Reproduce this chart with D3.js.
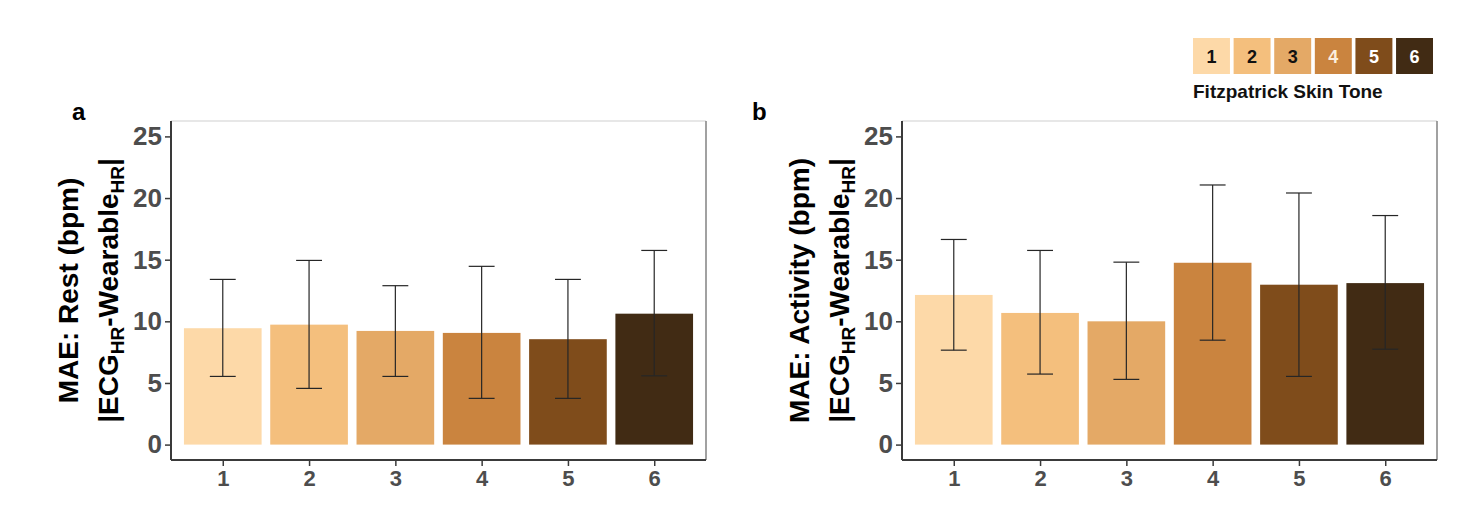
<!DOCTYPE html>
<html>
<head>
<meta charset="utf-8">
<script src="https://cdn.jsdelivr.net/npm/d3@7"></script>
<style>
  html, body { margin: 0; padding: 0; background: #fff; }
  svg { display: block; font-family: "Liberation Sans", Arial, sans-serif; }
</style>
</head>
<body>
<svg id="chart" width="1470" height="530"></svg>
<script>
// ---- data ----
const categories = ["1", "2", "3", "4", "5", "6"];
const toneColors = ["#FDD9A8", "#F4BF7D", "#E4A966", "#CA843F", "#7F4C1B", "#412B14"];
const legendTextColors = ["#111", "#111", "#111", "#fbeedd", "#fff", "#fff"];
const yTicks = [0, 5, 10, 15, 20, 25];

const restMean  = [9.44, 9.73, 9.22, 9.06, 8.55, 10.62];
const restLow   = [5.53, 4.56, 5.53, 3.75, 3.75, 5.58];
const restHigh  = [13.40, 14.94, 12.89, 14.46, 13.40, 15.75];

const actMean   = [12.14, 10.68, 10.00, 14.75, 12.97, 13.10];
const actLow    = [7.66, 5.72, 5.29, 8.47, 5.53, 7.74];
const actHigh   = [16.64, 15.75, 14.80, 21.06, 20.41, 18.58];

const panels = [
  { tag: "a", title: "MAE: Rest (bpm)", mean: restMean, low: restLow, high: restHigh, left: 171, tagX: 72 },
  { tag: "b", title: "MAE: Activity (bpm)", mean: actMean, low: actLow, high: actHigh, left: 902, tagX: 752 }
];

(function () {
const svg = d3.select("#chart");
const panelW = 535, pTop = 121, pBottom = 460;

const y = d3.scaleLinear().domain([-1.25, 26.25]).range([pBottom, pTop]);

panels.forEach(p => {
  // discrete scale with 0.6-unit expansion on each side
  const step = panelW / 6.2;
  const xs = d3.scalePoint().domain(categories)
    .range([p.left + step * 0.6, p.left + panelW - step * 0.6]);
  const bw = step * 0.9;

  const g = svg.append("g");

  // panel border (top/right)
  g.append("line").attr("x1", p.left).attr("x2", p.left + panelW).attr("y1", pTop).attr("y2", pTop)
    .attr("stroke", "#cfcfcf").attr("stroke-width", 1.2);
  g.append("line").attr("x1", p.left + panelW).attr("x2", p.left + panelW).attr("y1", pTop).attr("y2", pBottom)
    .attr("stroke", "#8a8a8a").attr("stroke-width", 1.6);

  // bars
  g.selectAll("rect.bar").data(categories).enter().append("rect")
    .attr("class", "bar")
    .attr("x", c => xs(c) - bw / 2)
    .attr("width", bw)
    .attr("y", (c, i) => y(p.mean[i]))
    .attr("height", (c, i) => y(0) - y(p.mean[i]))
    .attr("fill", (c, i) => toneColors[i]);

  // error bars
  const capW = step * 0.3;
  const eb = g.selectAll("g.eb").data(categories).enter().append("g")
    .attr("stroke", "#262626").attr("stroke-width", 1.2);
  eb.append("line").attr("x1", c => xs(c)).attr("x2", c => xs(c))
    .attr("y1", (c, i) => y(p.low[i])).attr("y2", (c, i) => y(p.high[i]));
  eb.append("line").attr("x1", c => xs(c) - capW / 2).attr("x2", c => xs(c) + capW / 2)
    .attr("y1", (c, i) => y(p.high[i])).attr("y2", (c, i) => y(p.high[i]));
  eb.append("line").attr("x1", c => xs(c) - capW / 2).attr("x2", c => xs(c) + capW / 2)
    .attr("y1", (c, i) => y(p.low[i])).attr("y2", (c, i) => y(p.low[i]));

  // y axis
  const yAxis = g.append("g").attr("transform", `translate(${p.left},0)`)
    .call(d3.axisLeft(y).tickValues(yTicks).tickSize(6).tickPadding(3));
  yAxis.select(".domain").attr("d", `M0,${pTop}V${pBottom}`).attr("stroke", "#3a3a3a").attr("stroke-width", 2);
  yAxis.selectAll(".tick line").attr("stroke", "#3a3a3a").attr("stroke-width", 1.5);
  yAxis.selectAll(".tick text").attr("font-size", 26).attr("font-weight", "bold")
    .attr("fill", "#4d4d4d").attr("font-family", "Liberation Sans, Arial, sans-serif");

  // x axis
  const xAxis = g.append("g").attr("transform", `translate(0,${pBottom})`)
    .call(d3.axisBottom(xs).tickSize(6).tickPadding(4));
  xAxis.select(".domain").attr("d", `M${p.left},0H${p.left + panelW}`).attr("stroke", "#3a3a3a").attr("stroke-width", 2);
  xAxis.selectAll(".tick line").attr("stroke", "#3a3a3a").attr("stroke-width", 1.5);
  xAxis.selectAll(".tick text").attr("font-size", 22).attr("font-weight", "bold")
    .attr("fill", "#4d4d4d").attr("font-family", "Liberation Sans, Arial, sans-serif");

  // y title (two lines)
  const midY = (pTop + pBottom) / 2;
  g.append("text")
    .attr("transform", `translate(${p.left - 93},${midY}) rotate(-90)`)
    .attr("text-anchor", "middle").attr("font-size", 28).attr("font-weight", "bold").attr("fill", "#000")
    .text(p.title);
  const t2 = g.append("text")
    .attr("transform", `translate(${p.left - 53},${midY}) rotate(-90)`)
    .attr("text-anchor", "middle").attr("font-size", 28).attr("font-weight", "bold").attr("fill", "#000");
  t2.append("tspan").text("|ECG");
  t2.append("tspan").attr("font-size", 19).attr("dy", 6).text("HR");
  t2.append("tspan").attr("dy", -6).text("-Wearable");
  t2.append("tspan").attr("font-size", 19).attr("dy", 6).text("HR");
  t2.append("tspan").attr("dy", -6).text("|");

  // panel tag
  g.append("text").attr("x", p.tagX).attr("y", 120)
    .attr("font-size", 24).attr("font-weight", "bold").attr("fill", "#000").text(p.tag);
});

// legend
const lg = svg.append("g");
const lx = d3.scaleBand().domain(categories).range([1193, 1433]).paddingInner(0.09).paddingOuter(0);
lg.selectAll("rect").data(categories).enter().append("rect")
  .attr("x", c => lx(c)).attr("y", 38).attr("width", lx.bandwidth()).attr("height", 36)
  .attr("fill", (c, i) => toneColors[i]);
lg.selectAll("text.num").data(categories).enter().append("text")
  .attr("class", "num")
  .attr("x", c => lx(c) + lx.bandwidth() / 2).attr("y", 63)
  .attr("text-anchor", "middle").attr("font-size", 18).attr("font-weight", "bold")
  .attr("fill", (c, i) => legendTextColors[i]).text(c => c);
lg.append("text").attr("x", 1193).attr("y", 98)
  .attr("font-size", 19).attr("font-weight", "bold").attr("fill", "#111")
  .text("Fitzpatrick Skin Tone");
})();
</script>
</body>
</html>
